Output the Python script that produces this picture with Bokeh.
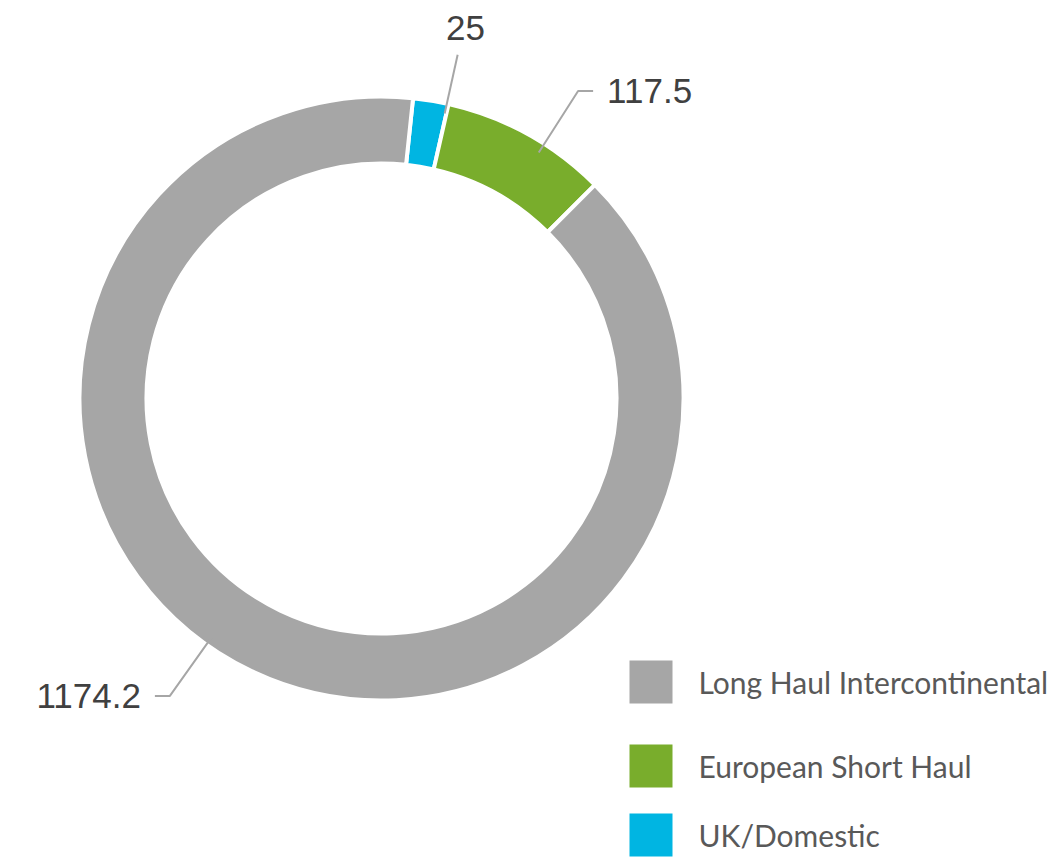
import math
from bokeh.plotting import figure
from bokeh.models import Range1d
from bokeh.embed import file_html
from bokeh.resources import INLINE
from bokeh.core.properties import value

# ---- data ----
categories = ["UK/Domestic", "European Short Haul", "Long Haul Intercontinental"]
values = [25, 117.5, 1174.2]
value_labels = ["25", "117.5", "1174.2"]
colors = ["#00B5E2", "#79AD2C", "#A6A6A6"]
legend_order = ["Long Haul Intercontinental", "European Short Haul", "UK/Domestic"]

# ---- layout / style ----
W, H = 1054, 858


def sy(y):
    return H - y


p = figure(width=W, height=H, output_backend="svg", toolbar_location=None,
           x_range=Range1d(0, W), y_range=Range1d(0, H),
           x_axis_location=None, y_axis_location=None, min_border=0)
p.grid.visible = False
p.outline_line_color = None
p.background_fill_color = "white"

cx, cy = 381, sy(398)
r_in, r_out = 235, 302
start_clock = 6.0  # degrees clockwise from 12 o'clock

total = sum(values)
spans = [v / total * 360 for v in values]
starts, ends = [], []
a = start_clock
for s in spans:
    starts.append(a)
    ends.append(a + s)
    a += s


def m(clock_deg):
    return math.radians(90 - clock_deg)


p.annular_wedge(x=[cx] * 3, y=[cy] * 3, inner_radius=r_in, outer_radius=r_out,
                start_angle=[m(s) for s in starts], end_angle=[m(e) for e in ends],
                direction="clock", fill_color=colors, line_color="white", line_width=4)

# ---- leader lines & value labels ----
label_frac = [0.95, 0.615, 0.531]
label_mode = ["top", "right", "left"]
lead_col = "#A6A6A6"
num_font = value("Liberation Sans")
for i in range(3):
    ang = starts[i] + label_frac[i] * spans[i]
    t = math.radians(ang)
    ax, ay = cx + 292 * math.sin(t), cy + 292 * math.cos(t)
    if label_mode[i] == "top":
        ex, ey = cx + 352 * math.sin(t), cy + 352 * math.cos(t)
        p.line([ax, ex], [ay, ey], line_color=lead_col, line_width=2)
        tx, ty = cx + 388 * math.sin(t), ey + 27
        p.text(x=[tx], y=[ty], text=[value_labels[i]], text_font=num_font,
               text_font_size="35px", text_color="#404040",
               text_align="center", text_baseline="middle")
    else:
        ex, ey = cx + 365 * math.sin(t), cy + 365 * math.cos(t)
        d = 15 if label_mode[i] == "right" else -15
        p.line([ax, ex, ex + d], [ay, ey, ey], line_color=lead_col, line_width=2)
        gx = ex + d + (14 if d > 0 else -14)
        p.text(x=[gx], y=[ey], text=[value_labels[i]], text_font=num_font,
               text_font_size="35px", text_color="#404040",
               text_align="left" if d > 0 else "right", text_baseline="middle")

# ---- legend ----
leg_sq = [681.5, 765.5, 834.5]
for name, yy in zip(legend_order, leg_sq):
    c = colors[categories.index(name)]
    p.scatter(x=[650.5], y=[sy(yy)], marker="square", size=43,
              fill_color=c, line_color=None)
    p.text(x=[698], y=[sy(yy)], text=[name], text_font=value("Lato"),
           text_font_size="30px", text_color="#595959",
           text_align="left", text_baseline="middle")

open("out.html", "w").write(file_html(p, INLINE))
